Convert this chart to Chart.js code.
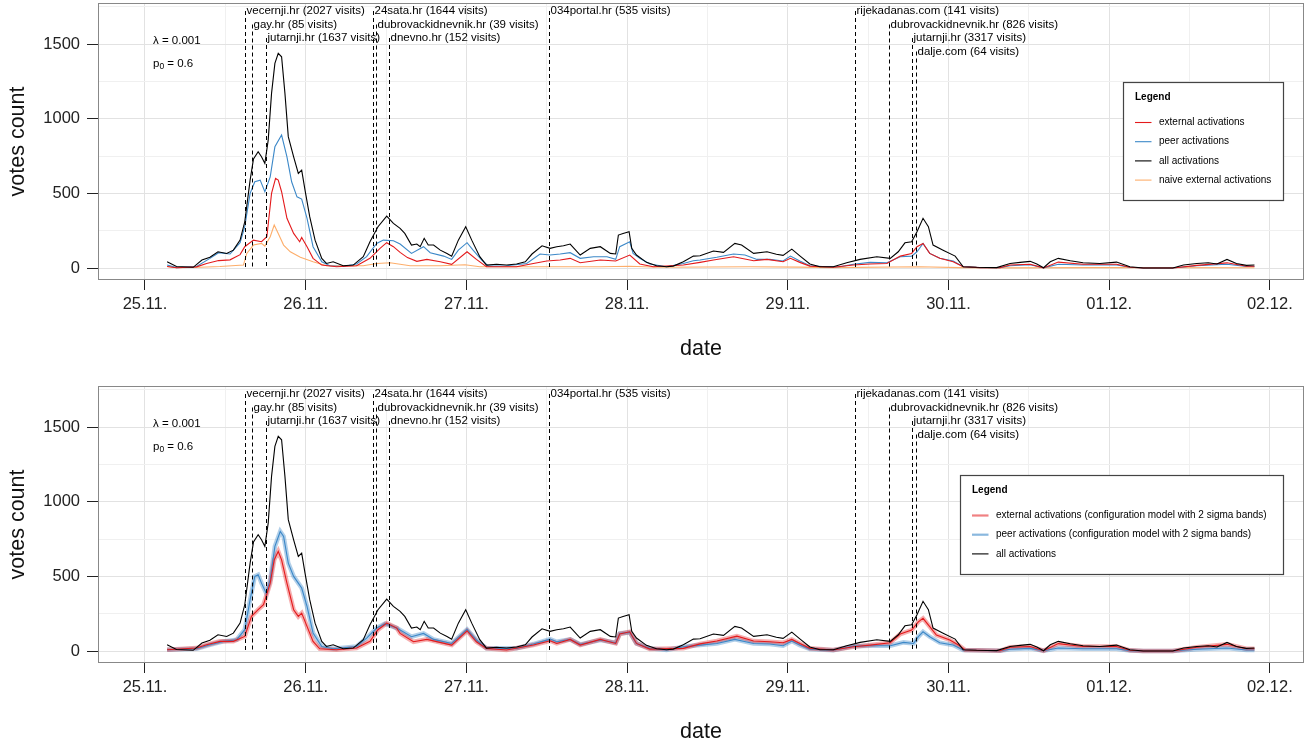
<!DOCTYPE html>
<html>
<head>
<meta charset="utf-8">
<script src="https://cdn.jsdelivr.net/npm/chart.js@4.4.0/dist/chart.umd.min.js"></script>
<style>
  body { margin: 0; background: #fff; }
  #wrap { position: relative; width: 1315px; height: 746px; }
  canvas { position: absolute; left: 0; }
  #top { top: 0; }
  #bottom { top: 383px; }
</style>
</head>
<body>
<div id="wrap">
  <canvas id="top" width="1315" height="383"></canvas>
  <canvas id="bottom" width="1315" height="363"></canvas>
</div>
<script>
const FONT = '"Liberation Sans", Arial, sans-serif'

// time axis in hours since 25.11. 00:00
const dayTicks = [0, 24, 48, 72, 96, 120, 144, 168]
const dayLabels = ['25.11.', '26.11.', '27.11.', '28.11.', '29.11.', '30.11.', '01.12.', '02.12.']
const halfDayGrid = [0, 12, 24, 36, 48, 60, 72, 84, 96, 108, 120, 132, 144, 156, 168]
const voteTicks = [0, 500, 1000, 1500]
const voteGrid = [0, 250, 500, 750, 1000, 1250, 1500, 1750]

// [hour, votes]
const allActivations = [[3.3,42],[4.7,10],[7.2,5],[8.5,54],[9.7,72],[10.9,109],[12.2,98],[13.2,120],[14.2,187],[14.9,310],
  [15.7,589],[16.2,730],[16.9,779],[17.4,745],[17.9,701],[18.4,857],[18.9,1170],[19.4,1371],[19.9,1438],[20.4,1415],
  [20.9,1170],[21.4,880],[22.2,745],[22.9,634],[23.4,656],[23.9,522],[24.6,344],[25.4,187],[26.4,65],[27.1,31],
  [28.1,42],[29.6,15],[31.1,20],[32.6,76],[33.6,176],[34.8,277],[36.1,348],[37.1,299],[38.1,266],[38.8,232],
  [39.8,154],[40.6,161],[41.1,143],[41.7,199],[42.3,154],[43.1,154],[44.1,120],[45.1,98],[45.8,80],[46.8,187],
  [47.9,277],[48.8,187],[50.0,76],[51.0,20],[52.5,25],[54.0,20],[55.5,27],[56.8,42],[57.8,94],[59.3,149],
  [60.5,132],[61.5,143],[62.5,149],[63.5,161],[65.0,87],[66.5,132],[68.0,143],[69.5,98],[70.3,94],[70.7,221],
  [71.4,232],[72.3,243],[72.7,132],[73.4,87],[74.9,38],[76.4,15],[77.9,9],[78.9,13],[80.4,42],[81.9,80],
  [82.9,82],[84.9,114],[86.4,105],[88.1,165],[89.1,154],[90.9,98],[92.9,109],[94.3,92],[95.3,85],[96.6,127],
  [97.8,82],[99.3,27],[100.8,9],[102.8,9],[104.8,36],[106.8,58],[109.3,76],[111.3,65],[112.5,109],[113.5,169],
  [114.5,176],[115.3,243],[116.2,333],[117.0,277],[117.7,154],[119.2,120],[121.0,80],[122.2,9],[124.2,5],[127.2,3],
  [129.2,31],[130.7,38],[132.2,45],[133.2,27],[134.2,2],[135.2,42],[136.4,65],[138.2,49],[140.1,36],[142.6,31],
  [145.1,40],[147.1,9],[149.1,0],[153.5,0],[155.1,20],[157.1,31],[158.8,36],[160.1,27],[161.6,58],[163.0,31],
  [164.5,18],[165.7,20]]

const peerActivations = [[3.3,20],[4.7,3],[7.7,10],[9.7,65],[11.0,103],[12.7,94],[14.2,170],[14.9,277],[15.7,500],[16.4,578],
  [17.2,589],[17.9,511],[18.7,611],[19.4,812],[20.4,891],[21.2,745],[21.9,578],[22.7,477],[23.4,462],[24.2,333],
  [25.1,143],[26.4,42],[27.6,15],[29.6,10],[31.6,27],[33.1,76],[34.6,165],[35.6,187],[37.1,183],[38.1,161],
  [39.8,98],[41.6,143],[42.6,103],[44.6,80],[45.8,58],[46.8,120],[48.1,170],[49.0,120],[50.3,54],[51.3,13],
  [54.0,15],[57.0,31],[59.0,94],[60.5,87],[62.0,94],[63.5,103],[65.0,65],[67.0,76],[69.0,76],[70.3,58],
  [70.9,143],[72.4,176],[72.9,98],[73.9,65],[75.4,27],[77.9,9],[80.4,31],[81.9,49],[82.9,54],[85.4,72],
  [87.9,94],[89.6,87],[91.4,58],[93.3,58],[95.3,47],[96.4,80],[97.8,47],[99.3,15],[101.8,9],[103.8,9],
  [105.8,25],[108.3,38],[110.8,36],[112.8,76],[114.5,80],[115.3,109],[116.2,165],[117.2,98],[118.7,65],[120.7,47],
  [122.2,9],[124.7,3],[127.7,2],[129.2,15],[132.2,22],[134.2,1],[136.4,25],[140.1,20],[145.1,20],[147.1,5],
  [149.1,0],[153.5,0],[157.1,15],[161.6,25],[164.5,10],[165.7,10]]

const externalActivations = [[3.3,10],[4.7,2],[7.7,8],[9.2,31],[11.0,50],[12.7,55],[14.2,90],[14.9,143],[16.2,187],[17.4,176],
  [18.2,210],[18.9,500],[19.5,600],[19.9,589],[20.4,511],[21.2,333],[22.2,232],[23.1,176],[23.4,205],[24.2,143],
  [25.1,65],[26.4,20],[28.6,9],[31.6,15],[33.6,65],[35.1,132],[36.1,170],[37.1,143],[38.1,105],[39.2,70],
  [40.6,45],[42.1,58],[44.1,42],[45.8,25],[48.1,109],[49.5,58],[51.0,9],[55.5,9],[58.0,31],[60.0,47],
  [62.0,54],[63.5,65],[65.0,36],[68.0,54],[70.3,47],[72.4,87],[73.9,27],[75.9,9],[80.4,20],[82.9,38],
  [84.9,54],[87.9,76],[90.9,49],[92.9,58],[95.3,42],[96.4,65],[97.8,38],[99.3,13],[102.8,5],[105.8,20],
  [108.3,27],[110.8,31],[112.8,80],[114.5,98],[115.3,143],[116.2,165],[117.2,98],[118.7,65],[120.7,42],[122.2,9],
  [124.7,3],[127.7,2],[129.2,20],[132.2,25],[134.2,1],[136.4,40],[140.1,25],[145.1,25],[147.1,5],[149.1,0],
  [153.5,0],[157.1,18],[161.6,35],[164.5,12],[165.7,12]]

const naiveExternal = [[3.3,10],[4.7,2],[8.2,5],[11.2,10],[14.7,20],[15.2,98],[16.2,154],[17.4,165],[17.9,147],[18.7,210],
  [19.3,288],[19.9,232],[20.7,154],[21.7,109],[23.2,72],[25.1,42],[27.1,15],[32.6,15],[34.6,31],[36.6,36],
  [39.6,15],[44.1,15],[47.8,22],[50.0,9],[68.0,9],[72.4,12],[76.9,5],[90.4,9],[97.8,6],[102.3,3],
  [115.7,9],[121.7,3],[127.7,1],[142.6,3],[165.7,2]]

// configuration model (bottom panel)
const cfgExternal = [[3.3,9],[7.7,20],[9.2,42],[11.2,65],[13.2,65],[14.9,98],[15.9,232],[16.9,277],[17.7,310],[18.7,455],
  [19.3,611],[19.9,667],[20.4,611],[21.2,455],[22.2,277],[22.9,232],[23.4,254],[24.2,165],[25.1,65],[26.1,15],
  [28.6,9],[31.6,20],[33.6,65],[34.8,143],[36.1,187],[37.6,154],[38.1,118],[40.1,62],[42.1,78],[45.8,40],
  [48.1,136],[49.5,62],[51.0,18],[54.0,7],[58.0,40],[60.5,69],[61.5,51],[63.5,78],[65.0,40],[68.0,78],
  [70.3,51],[70.9,114],[72.4,129],[73.4,51],[75.4,13],[80.4,18],[82.9,48],[85.4,67],[88.4,100],[90.9,67],
  [93.3,62],[95.3,56],[96.6,78],[97.8,51],[99.3,18],[102.8,7],[105.8,29],[108.3,40],[111.3,56],[112.8,114],
  [114.5,141],[115.5,196],[116.2,219],[117.2,163],[118.2,107],[120.2,74],[121.5,40],[122.5,7],[127.7,2],[129.2,25],
  [132.2,30],[134.2,2],[136.4,50],[140.1,30],[145.1,30],[147.1,5],[149.1,0],[153.5,0],[157.1,25],[161.6,45],
  [164.5,15],[165.7,15]]

const cfgPeer = [[3.3,9],[7.7,15],[9.7,42],[11.7,65],[13.7,76],[14.9,143],[15.7,344],[16.4,500],[16.9,511],[17.4,455],
  [18.1,388],[18.7,477],[19.4,701],[20.2,801],[20.7,768],[21.4,589],[22.2,500],[22.9,455],[23.4,422],[24.2,299],
  [25.1,121],[26.4,31],[28.1,15],[31.6,31],[33.1,87],[34.6,154],[35.8,183],[37.6,154],[38.1,141],[39.8,96],
  [41.6,118],[43.1,78],[45.8,51],[48.1,145],[49.5,74],[51.0,18],[55.5,18],[58.0,47],[60.5,80],[61.5,62],
  [63.5,78],[65.0,45],[68.0,74],[70.3,56],[70.9,118],[72.4,125],[73.4,51],[75.4,18],[77.9,7],[80.4,29],
  [82.9,40],[85.4,51],[88.1,78],[90.9,51],[93.3,47],[95.3,36],[96.6,67],[97.8,40],[99.3,13],[102.8,5],
  [105.8,33],[108.3,36],[111.3,36],[113.3,58],[114.8,51],[115.5,96],[116.2,129],[117.2,96],[118.7,56],[120.7,40],
  [122.2,7],[127.7,2],[129.2,12],[132.2,18],[134.2,2],[136.4,20],[140.1,15],[145.1,15],[147.1,3],[149.1,0],
  [153.5,0],[157.1,12],[161.6,20],[164.5,7],[165.7,7]]

// news sources that linked the story
const sourceNames = ['vecernji.hr (2027 visits)', 'gay.hr (85 visits)', 'jutarnji.hr (1637 visits)',
  '24sata.hr (1644 visits)', 'dubrovackidnevnik.hr (39 visits)', 'dnevno.hr (152 visits)',
  '034portal.hr (535 visits)', 'rijekadanas.com (141 visits)', 'dubrovackidnevnik.hr (826 visits)',
  'jutarnji.hr (3317 visits)', 'dalje.com (64 visits)']
const sourceHours = [14.9, 16.0, 18.1, 34.1, 34.5, 36.5, 60.3, 106.0, 111.1, 114.5, 115.1]
const sourceRows = [0, 1, 2, 0, 1, 2, 0, 0, 1, 2, 3]

const lambdaText = '0.001'
const p0Text = '0.6'

const topLegendLabels = ['external activations', 'peer activations', 'all activations', 'naive external activations']
const bottomLegendLabels = ['external activations (configuration model with 2 sigma bands)',
  'peer activations (configuration model with 2 sigma bands)', 'all activations']

const RED = '#E41A1C'
const BLUE = '#3C88C8'
const ORANGE = '#FDAE6B'
const RED_BAND = 'rgba(228,26,28,0.35)'
const BLUE_BAND = 'rgba(60,136,200,0.4)'

const pts = arr => arr.map(p => ({ x: p[0], y: p[1] }))

function lineSet(label, data, color, width, order) {
  return { label, data: pts(data), borderColor: color, borderWidth: width, pointRadius: 0,
    tension: 0, fill: false, order }
}

function makeScales(xAxisHeight, datePad) {
  return {
    x: {
      type: 'linear', min: -6.87, max: 172.95,
      afterBuildTicks: s => { s.ticks = halfDayGrid.map(v => ({ value: v })) },
      afterFit: s => { s.height = xAxisHeight; s.paddingLeft = 0; s.paddingRight = 0 },
      ticks: {
        autoSkip: false, maxRotation: 0, padding: 5, color: '#222',
        font: { family: FONT, size: 16.5 },
        callback: v => { const i = dayTicks.indexOf(v); return i >= 0 ? dayLabels[i] : '' }
      },
      grid: {
        color: c => dayTicks.includes(c.tick.value) ? '#e2e2e2' : '#f0f0f0',
        tickColor: c => dayTicks.includes(c.tick.value) ? '#222' : 'rgba(0,0,0,0)',
        tickLength: 10
      },
      border: { display: false },
      title: { display: true, text: 'date', color: '#111', font: { family: FONT, size: 21.5 },
        padding: { top: 0, bottom: datePad } }
    },
    y: {
      min: -80, max: 1775,
      afterBuildTicks: s => { s.ticks = voteGrid.map(v => ({ value: v })) },
      afterFit: s => { s.width = 99; s.paddingTop = 0; s.paddingBottom = 0 },
      ticks: {
        padding: 7, color: '#222', font: { family: FONT, size: 16.5 },
        callback: v => voteTicks.includes(v) ? String(v) : ''
      },
      grid: {
        color: c => voteTicks.includes(c.tick.value) ? '#e2e2e2' : '#f0f0f0',
        tickColor: c => voteTicks.includes(c.tick.value) ? '#222' : 'rgba(0,0,0,0)',
        tickLength: 12
      },
      border: { display: false },
      title: { display: true, text: 'votes count', color: '#111', font: { family: FONT, size: 21.5 },
        padding: { top: 5, bottom: 0 } }
    }
  }
}

const decorPlugin = {
  id: 'decor',
  afterDatasetsDraw(chart, args, opts) {
    const { ctx, chartArea: a, scales: { x, y } } = chart
    const y0 = y.getPixelForValue(0)
    ctx.save()
    ctx.strokeStyle = '#000'
    ctx.fillStyle = '#000'
    ctx.lineWidth = 1
    ctx.setLineDash([4, 3])
    sourceHours.forEach((h, i) => {
      const px = Math.round(x.getPixelForValue(h)) + 0.5
      const py = a.top + 8 + sourceRows[i] * 13.5
      ctx.beginPath()
      ctx.moveTo(px, py)
      ctx.lineTo(px, y0)
      ctx.stroke()
    })
    ctx.setLineDash([])
    ctx.font = `11.5px ${FONT}`
    ctx.textBaseline = 'middle'
    ctx.textAlign = 'left'
    sourceHours.forEach((h, i) => {
      const px = Math.round(x.getPixelForValue(h)) + 1.5
      ctx.fillText(sourceNames[i], px, a.top + 8 + sourceRows[i] * 13.5)
    })

    // model parameters
    const lx = a.left + 54
    ctx.fillText('\u03bb = ' + lambdaText, lx, a.top + 38)
    ctx.fillText('p', lx, a.top + 61)
    const pw = ctx.measureText('p').width
    ctx.font = `8.5px ${FONT}`
    ctx.fillText('0', lx + pw, a.top + 64)
    const zw = ctx.measureText('0').width
    ctx.font = `11.5px ${FONT}`
    ctx.fillText(' = ' + p0Text, lx + pw + zw, a.top + 61)
    ctx.restore()
  },
  afterDraw(chart, args, opts) {
    const { ctx, chartArea: a } = chart
    ctx.save()
    ctx.strokeStyle = '#888'
    ctx.lineWidth = 1
    ctx.strokeRect(Math.round(a.left) - 0.5, Math.round(a.top) + 0.5,
      Math.round(a.right - a.left) + 1, Math.round(a.bottom - a.top) - 1)

    // legend box
    const lg = opts.legend
    const bx = a.right - 20 - lg.w
    const by = a.top + lg.top
    ctx.fillStyle = '#fff'
    ctx.fillRect(bx, by, lg.w, lg.h)
    ctx.strokeStyle = '#444'
    ctx.lineWidth = 1.2
    ctx.strokeRect(bx + 0.5, by + 0.5, lg.w, lg.h)
    ctx.fillStyle = '#000'
    ctx.textBaseline = 'middle'
    ctx.textAlign = 'left'
    ctx.font = `bold 10px ${FONT}`
    ctx.fillText('Legend', bx + 12, by + 15.5)
    ctx.font = `10px ${FONT}`
    lg.labels.forEach((t, i) => {
      const ry = by + 40.5 + i * 19.2
      ctx.strokeStyle = lg.colors[i]
      ctx.lineWidth = lg.widths[i]
      ctx.beginPath()
      ctx.moveTo(bx + 12, ry)
      ctx.lineTo(bx + 28.5, ry)
      ctx.stroke()
      ctx.fillStyle = '#000'
      ctx.fillText(t, bx + 36, ry)
    })
    ctx.restore()
  }
}

function baseOptions(xAxisHeight, datePad, legend) {
  return {
    responsive: false,
    animation: false,
    layout: { padding: { top: 3, right: 12, left: 0, bottom: 0 } },
    scales: makeScales(xAxisHeight, datePad),
    plugins: { legend: { display: false }, tooltip: { enabled: false }, decor: { legend } }
  }
}

new Chart(document.getElementById('top'), {
  type: 'line',
  data: {
    datasets: [
      lineSet('external activations', externalActivations, RED, 1.1, 2),
      lineSet('peer activations', peerActivations, BLUE, 1.1, 3),
      lineSet('all activations', allActivations, '#000', 1.1, 1),
      lineSet('naive external activations', naiveExternal, ORANGE, 1.1, 4)
    ]
  },
  options: baseOptions(103, 21, {
    w: 160, h: 118, top: 79, labels: topLegendLabels,
    colors: [RED, BLUE, '#000', ORANGE], widths: [1.1, 1.1, 1.1, 1.1]
  }),
  plugins: [decorPlugin]
})

new Chart(document.getElementById('bottom'), {
  type: 'line',
  data: {
    datasets: [
      lineSet('all activations', allActivations, '#000', 1.1, 0),
      lineSet('external activations', cfgExternal, RED, 1.1, 2),
      lineSet('peer activations', cfgPeer, BLUE, 1.1, 3),
      lineSet('external band', cfgExternal, RED_BAND, 4.5, 6),
      lineSet('peer band', cfgPeer, BLUE_BAND, 4.5, 7)
    ]
  },
  options: baseOptions(83, 1, {
    w: 323, h: 99, top: 89, labels: bottomLegendLabels,
    colors: ['rgba(228,26,28,0.55)', 'rgba(60,136,200,0.6)', '#000'], widths: [2.2, 2.2, 1.1]
  }),
  plugins: [decorPlugin]
})
</script>
</body>
</html>
